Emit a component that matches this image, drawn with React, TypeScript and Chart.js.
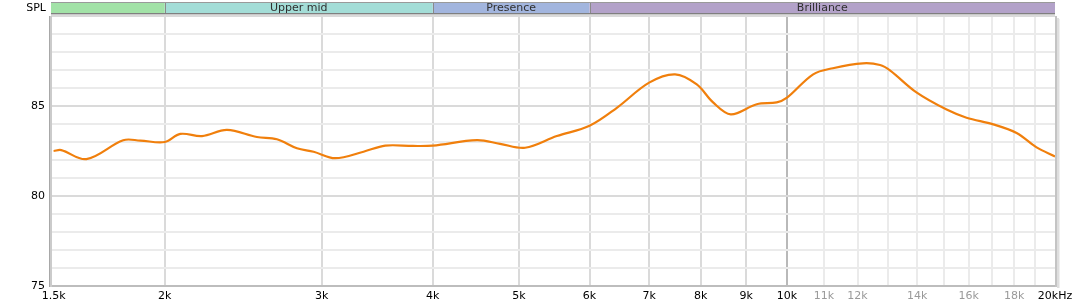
import React, { useEffect, useRef } from 'react';
import { Chart, registerables } from 'chart.js';

Chart.register(...registerables);

const frequencies = [1500, 1530, 1633, 1796, 1877, 2000, 2082, 2202, 2349, 2538, 2673, 2815, 2939, 3108, 3344, 3537, 3800, 4000, 4484, 4761, 5079, 5513, 6000, 6439, 7000, 7486, 7918, 8259, 8646, 9248, 9737, 10000, 10700, 11260, 12170, 12720, 13050, 13990, 15110, 15910, 17050, 18110, 19070, 20000];
const splValues = [82.5, 82.55, 82.05, 83.1, 83.08, 83.0, 83.45, 83.33, 83.67, 83.28, 83.15, 82.65, 82.46, 82.1, 82.46, 82.8, 82.78, 82.8, 83.1, 82.9, 82.68, 83.33, 83.9, 84.9, 86.3, 86.76, 86.2, 85.2, 84.54, 85.1, 85.2, 85.46, 86.76, 87.1, 87.37, 87.28, 86.98, 85.74, 84.8, 84.35, 83.98, 83.5, 82.7, 82.2];

const xTickValues = [1500, 2000, 3000, 4000, 5000, 6000, 7000, 8000, 9000, 10000, 11000, 12000, 13000, 14000, 15000, 16000, 17000, 18000, 19000, 20000];
const xTickLabels = ['1.5k', '2k', '3k', '4k', '5k', '6k', '7k', '8k', '9k', '10k', '11k', '12k', '', '14k', '', '16k', '', '18k', '', '20kHz'];
const greyLabelFreqs = [11000, 12000, 14000, 16000, 18000];
const yLabelValues = [75, 80, 85];

const bandEdges = [1490, 2000, 4000, 6000, 20000];
const bandNames = ['', 'Upper mid', 'Presence', 'Brilliance'];
const bandColors = ['#a2e2a7', '#a3ddd7', '#a2b5de', '#b3a2c9'];

const FONT = '"DejaVu Sans", "Liberation Sans", sans-serif';

const framePlugin = {
  id: 'frame',
  beforeDatasetsDraw(chart: any) {
    const { ctx, chartArea: ca } = chart;
    ctx.save();
    ctx.fillStyle = '#bdbdbd';
    ctx.fillRect(ca.left, ca.bottom - 1, ca.right - ca.left, 2);
    ctx.fillStyle = '#a8a8a8';
    ctx.fillRect(ca.left - 2, ca.top, 1, ca.bottom - ca.top + 1);
    ctx.fillStyle = '#cbcbcb';
    ctx.fillRect(ca.left - 1, ca.top, 2, ca.bottom - ca.top + 1);
    ctx.fillStyle = '#c4c4c4';
    ctx.fillRect(ca.right, ca.top, 2, ca.bottom - ca.top + 1);
    ctx.fillStyle = '#dedede';
    ctx.fillRect(ca.right + 2, ca.top + 2, 2, ca.bottom - ca.top);
    ctx.fillStyle = '#efefef';
    ctx.fillRect(ca.right + 4, ca.top + 3, 1, ca.bottom - ca.top - 1);
    ctx.restore();
  },
  afterDraw(chart: any) {
    const { ctx, chartArea: ca, scales } = chart;
    const x = scales.x;
    const top = 2;
    const bottom = 13;
    ctx.save();
    for (let i = 0; i < bandNames.length; i++) {
      const x0 = Math.max(ca.left, x.getPixelForValue(bandEdges[i]));
      const x1 = Math.min(ca.right, x.getPixelForValue(bandEdges[i + 1]));
      ctx.fillStyle = bandColors[i];
      ctx.fillRect(x0, top, x1 - x0, bottom - top);
      if (i > 0) {
        ctx.fillStyle = '#8a8a8a';
        ctx.fillRect(Math.round(x0), top, 1, bottom - top);
      }
      if (bandNames[i]) {
        ctx.fillStyle = '#303030';
        ctx.font = '11px ' + FONT;
        ctx.textAlign = 'center';
        ctx.textBaseline = 'middle';
        ctx.fillText(bandNames[i], (x0 + x1) / 2, 8);
      }
    }
    ctx.fillStyle = '#9a9a9a';
    ctx.fillRect(ca.left, top, ca.right - ca.left, 1);
    ctx.fillStyle = '#7f7f7f';
    ctx.fillRect(ca.left, bottom, ca.right - ca.left, 1);
    ctx.fillStyle = '#c8c8c8';
    ctx.fillRect(ca.left, bottom + 1, ca.right - ca.left, 1);
    ctx.fillStyle = '#000';
    ctx.font = '11px ' + FONT;
    ctx.textAlign = 'right';
    ctx.textBaseline = 'middle';
    ctx.fillText('SPL', 46, 8);
    ctx.restore();
  },
};

export default function App() {
  const canvasRef = useRef<HTMLCanvasElement | null>(null);

  useEffect(() => {
    if (!canvasRef.current) return;
    const points = frequencies.map((f, i) => ({ x: f, y: splValues[i] }));
    const chart = new Chart(canvasRef.current, {
      type: 'line',
      data: {
        datasets: [
          {
            data: points,
            borderColor: '#f07f0c',
            borderWidth: 2.2,
            pointRadius: 0,
            fill: false,
            tension: 0.35,
          },
        ],
      },
      options: {
        animation: false,
        responsive: false,
        maintainAspectRatio: false,
        devicePixelRatio: 1,
        layout: { padding: { top: 16, right: 27, left: 0, bottom: 0 } },
        plugins: {
          legend: { display: false },
          tooltip: { enabled: false },
        },
        scales: {
          x: {
            type: 'logarithmic',
            min: 1490,
            max: 20000,
            afterBuildTicks: (s: any) => {
              s.ticks = xTickValues.map((v) => ({ value: v }));
            },
            afterFit: (s: any) => {
              s.height = 22;
            },
            border: { display: false },
            grid: {
              drawTicks: false,
              lineWidth: 2,
              color: (c: any) => {
                const v = c.tick ? c.tick.value : 0;
                if (v === 1500 || v === 20000) return 'rgba(0,0,0,0)';
                if (v === 10000) return '#b9b9b9';
                if (v < 10000) return '#dadada';
                return '#ebebeb';
              },
            },
            ticks: {
              autoSkip: false,
              maxRotation: 0,
              padding: 4,
              font: { family: FONT, size: 11 },
              color: (c: any) => (c.tick && greyLabelFreqs.includes(c.tick.value) ? '#9a9a9a' : '#000'),
              callback: (v: any) => {
                const idx = xTickValues.indexOf(Number(v));
                return idx >= 0 ? xTickLabels[idx] : '';
              },
            },
          },
          y: {
            type: 'linear',
            min: 75,
            max: 90,
            afterFit: (s: any) => {
              s.width = 51;
            },
            border: { display: false },
            grid: {
              drawTicks: false,
              lineWidth: 2,
              color: (c: any) => {
                const v = c.tick ? c.tick.value : 0;
                if (v === 75) return 'rgba(0,0,0,0)';
                if (v % 5 === 0) return '#dadada';
                return '#ebebeb';
              },
            },
            ticks: {
              stepSize: 1,
              autoSkip: false,
              padding: 6,
              font: { family: FONT, size: 11 },
              color: '#000',
              callback: (v: any) => (yLabelValues.includes(Number(v)) ? String(v) : ''),
            },
          },
        },
      },
      plugins: [framePlugin],
    } as any);
    return () => chart.destroy();
  }, []);

  return (
    <div style={{ position: 'fixed', left: 0, top: 0, width: 1082, height: 308, background: '#fff' }}>
      <canvas ref={canvasRef} width={1082} height={308} style={{ width: 1082, height: 308, display: 'block' }} />
    </div>
  );
}
